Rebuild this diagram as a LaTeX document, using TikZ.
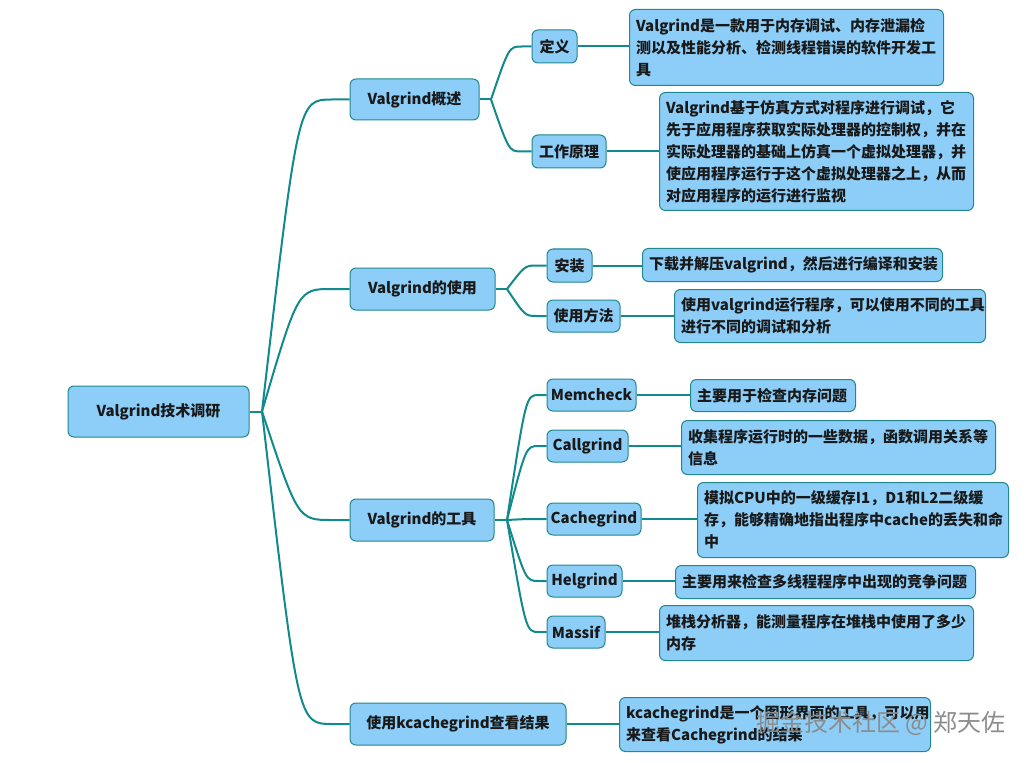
\documentclass[tikz,border=0pt]{standalone}
\usepackage{fontspec}
\setmainfont{Noto Sans CJK SC}
\definecolor{boxfill}{RGB}{140,206,248}
\definecolor{boxline}{RGB}{35,135,142}
\definecolor{branchc}{RGB}{18,137,138}
\tikzset{
    topic/.style={draw=boxline,fill=boxfill,line width=.75pt,rounded corners=4.5pt,
        font=\bfseries\fontsize{11.25}{16.5}\selectfont,text=black!90,inner sep=0pt},
    leaf/.style={topic,anchor=north west,align=left,inner xsep=5pt},
    branch/.style={draw=branchc,line width=1.5pt,line join=round}
}
\begin{document}
\begin{tikzpicture}[x=0.75pt,y=-0.75pt]
                  \useasboundingbox (0,0) rectangle (1032,763);
                  \node[topic,minimum width=135.75pt,minimum height=38.25pt] (root) at (158.5,411.5) {Valgrind技术调研};
                  \node[topic,minimum width=96.75pt,minimum height=30.75pt] (ovw) at (414.5,99.5) {Valgrind概述};
                  \node[topic,minimum width=108.75pt,minimum height=31.5pt] (use) at (422.5,289) {Valgrind的使用};
                  \node[topic,minimum width=108pt,minimum height=31.5pt] (tool) at (422,520) {Valgrind的工具};
                  \node[topic,minimum width=162pt,minimum height=31.5pt] (kc) at (458,724) {使用kcachegrind查看结果};
                  \node[topic,minimum width=33.75pt,minimum height=24.75pt] (def) at (554.5,46.5) {定义};
                  \node[topic,minimum width=55.5pt,minimum height=24.75pt] (prin) at (569,151.5) {工作原理};
                  \node[topic,minimum width=33.75pt,minimum height=24.75pt] (inst) at (569.5,265.5) {安装};
                  \node[topic,minimum width=54.75pt,minimum height=24pt] (how) at (583.5,316) {使用方法};
                  \node[topic,minimum width=66.75pt,minimum height=24pt] (memc) at (591.5,395) {Memcheck};
                  \node[topic,minimum width=60.75pt,minimum height=24pt] (callg) at (587.5,446) {Callgrind};
                  \node[topic,minimum width=70.5pt,minimum height=24pt] (cacheg) at (594,519) {Cachegrind};
                  \node[topic,minimum width=56.25pt,minimum height=24pt] (helg) at (584.5,581) {Helgrind};
                  \node[topic,minimum width=43.5pt,minimum height=24pt] (mass) at (576,632) {Massif};
                  \node[leaf,text width=225.5pt,minimum height=57pt] (defl) at (629,9) {Valgrind是一款用于内存调试、内存泄漏检\\测以及性能分析、检测线程错误的软件开发工\\具};
                  \node[leaf,text width=225.5pt,minimum height=88.5pt] (prinl) at (659,92) {Valgrind基于仿真方式对程序进行调试，它\\先于应用程序获取实际处理器的控制权，并在\\实际处理器的基础上仿真一个虚拟处理器，并\\使应用程序运行于这个虚拟处理器之上，从而\\对应用程序的运行进行监视};
                  \node[leaf,text width=215pt,minimum height=24.75pt] (instl) at (642,248) {下载并解压valgrind，然后进行编译和安装};
                  \node[leaf,text width=223.25pt,minimum height=39.75pt] (howl) at (674,289) {使用valgrind运行程序，可以使用不同的工具\\进行不同的调试和分析};
                  \node[leaf,text width=113.75pt,minimum height=24pt] (memcl) at (690,379) {主要用于检查内存问题};
                  \node[leaf,text width=225.5pt,minimum height=40.5pt] (callgl) at (681,420) {收集程序运行时的一些数据，函数调用关系等\\信息};
                  \node[leaf,text width=223.25pt,minimum height=56.25pt] (cachegl) at (697,482) {模拟CPU中的一级缓存I1，D1和L2二级缓\\存，能够精确地指出程序中cache的丢失和命\\中};
                  \node[leaf,text width=215pt,minimum height=24.75pt] (helgl) at (675,565) {主要用来检查多线程程序中出现的竞争问题};
                  \node[leaf,text width=225.5pt,minimum height=41.25pt] (massl) at (659,605) {堆栈分析器，能测量程序在堆栈中使用了多少\\内存};
                  \node[leaf,text width=223.25pt,minimum height=40.5pt] (kcl) at (619,697) {kcachegrind是一个图形界面的工具，可以用\\来查看Cachegrind的结果};
                  \coordinate (rootfork) at (262,411.5);
                  \coordinate (ovwfork) at (491,99.5);
                  \coordinate (usefork) at (507,289);
                  \coordinate (toolfork) at (507,520);
                  \draw[branch] (root.east) -- (rootfork);
                  \draw[branch] (ovw.east) -- (ovwfork);
                  \draw[branch] (use.east) -- (usefork);
                  \draw[branch] (tool.east) -- (toolfork);
                  \foreach \n/\y in {ovw/99.5,use/289,tool/520,kc/724}
                      \draw[branch] (rootfork) .. controls (298,\y) .. (332,\y) -- (\n.west);
                  \foreach \n/\y in {def/46.5,prin/151.5}
                      \draw[branch] (ovwfork) .. controls (509,\y) .. (522,\y) -- (\n.west);
                  \foreach \n/\y in {inst/265.5,how/316}
                      \draw[branch] (usefork) .. controls (525,\y) .. (537,\y) -- (\n.west);
                  \foreach \n/\y in {memc/395,callg/446,cacheg/519,helg/581,mass/632}
                      \draw[branch] (toolfork) .. controls (526,\y) .. (539,\y) -- (\n.west);
                  \foreach \a in {def,prin,inst,how,memc,callg,cacheg,helg,mass,kc}
                      \draw[branch] (\a.east) -- (\a.east -| \a l.west);
                  \node[text=black!45,font=\fontsize{18}{18}\selectfont] (mark) at (881,723) {掘金技术社区 @ 郑天佐};
              \end{tikzpicture}
\end{document}
